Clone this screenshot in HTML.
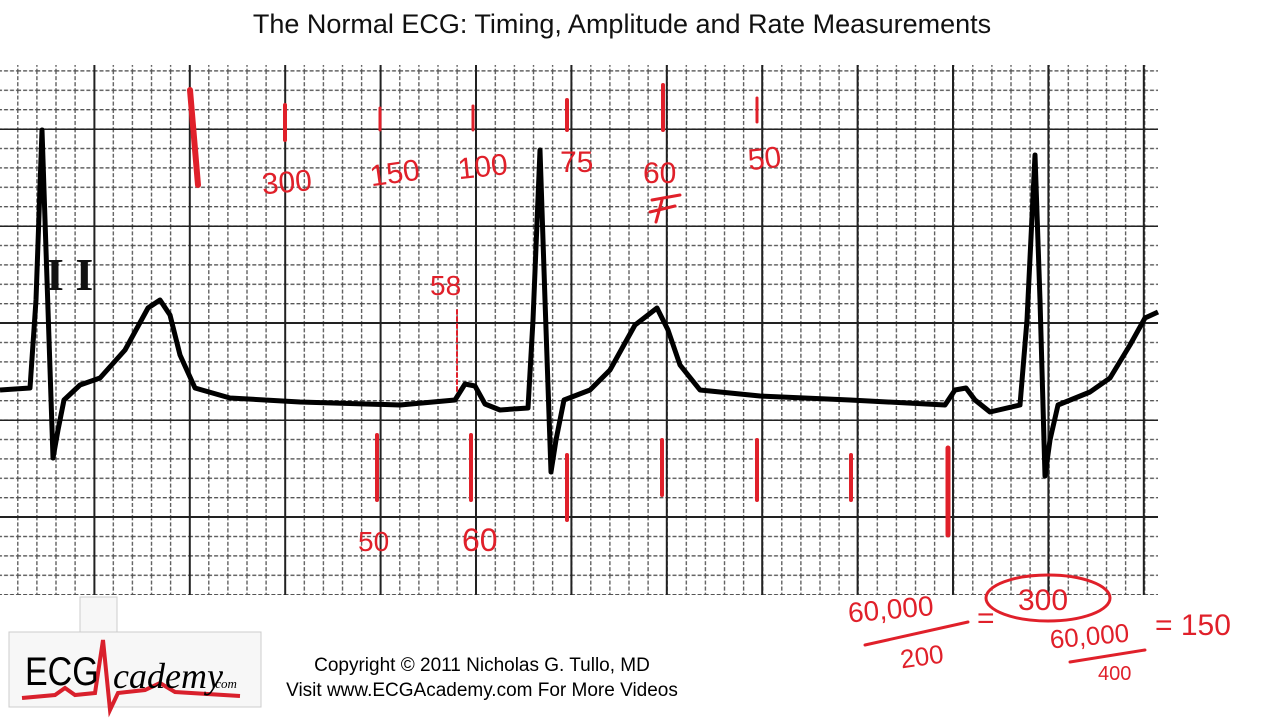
<!DOCTYPE html>
<html><head><meta charset="utf-8"><style>
body{margin:0;width:1280px;height:720px;background:#fff;overflow:hidden;font-family:"Liberation Sans",sans-serif}
</style></head><body>
<svg width="1280" height="720" xmlns="http://www.w3.org/2000/svg">
<defs>
<pattern id="minor" x="-2" y="12" width="19.1" height="19.4" patternUnits="userSpaceOnUse">
<path d="M0.7 0V19.4M0 0.7H19.1" stroke="#555" stroke-width="1.3" stroke-dasharray="4 2" fill="none"/>
</pattern>
<pattern id="major" x="-2" y="31" width="95.4" height="97" patternUnits="userSpaceOnUse">
<path d="M1 0V97M0 1H95.4" stroke="#222" stroke-width="2" fill="none"/>
</pattern>
</defs>
<text x="622" y="33" font-size="27" text-anchor="middle" fill="#111">The Normal ECG: Timing, Amplitude and Rate Measurements</text>
<rect x="0" y="65" width="1158" height="530" fill="url(#minor)"/>
<rect x="0" y="65" width="1158" height="530" fill="url(#major)"/>
<path d="M0 390 L30 388 L36 300 L42 130 L46 250 L53 458 L58 430 L64 400 L80 385 L100 378 L125 350 L148 308 L160 300 L170 315 L180 355 L195 388 L230 398 L300 402 L400 405 L455 400 L465 384 L475 386 L485 404 L500 410 L528 408 L533 320 L540 150 L545 300 L551 472 L556 440 L564 400 L590 390 L610 370 L635 325 L657 308 L668 330 L680 365 L700 390 L760 396 L850 400 L945 405 L955 390 L966 388 L975 400 L990 412 L1020 405 L1027 320 L1035 155 L1040 300 L1045 476 L1050 440 L1058 405 L1090 392 L1110 378 L1130 345 L1145 318 L1158 312" fill="none" stroke="#000" stroke-width="5" stroke-linejoin="round"/>
<text x="46" y="290" font-size="46" font-family="Liberation Serif" fill="#111" font-weight="bold">I I</text>
<g stroke="#e0202a" stroke-linecap="round" fill="none">
<path d="M190 90L198 185" stroke-width="6"/>
<path d="M285 105V140" stroke-width="4"/>
<path d="M380 108V130" stroke-width="3"/>
<path d="M473 106V130" stroke-width="3"/>
<path d="M567 100V130" stroke-width="4"/>
<path d="M663 85V130" stroke-width="4"/>
<path d="M757 98V122" stroke-width="3"/>
<path d="M457 310V392" stroke-width="2" stroke-dasharray="4 3"/>
<path d="M377 435V500" stroke-width="4"/>
<path d="M471 435V500" stroke-width="4"/>
<path d="M567 455V520" stroke-width="4"/>
<path d="M662 440V495" stroke-width="4"/>
<path d="M757 440V500" stroke-width="4"/>
<path d="M851 455V500" stroke-width="4"/>
<path d="M948 448V535" stroke-width="5"/>
<path d="M652 200L680 195M650 212L675 206M662 200L656 222" stroke-width="3"/>
<path d="M865 645L968 622" stroke-width="3"/>
<path d="M1070 662L1145 650" stroke-width="3"/>
<ellipse cx="1048" cy="598" rx="62" ry="23" stroke-width="3"/>
</g>
<g fill="#e0202a" font-family="Liberation Sans" font-size="30">
<text x="262" y="192" transform="rotate(-5 290 185)">300</text>
<text x="370" y="183" transform="rotate(-8 395 175)">150</text>
<text x="458" y="177" transform="rotate(-6 480 170)">100</text>
<text x="560" y="172">75</text>
<text x="643" y="183">60</text>
<text x="748" y="168" transform="rotate(-6 770 160)">50</text>
<text x="430" y="295" font-size="28">58</text>
<text x="358" y="551" font-size="28">50</text>
<text x="462" y="551" font-size="32">60</text>
<text x="848" y="618" font-size="28" transform="rotate(-5 900 610)">60,000</text>
<text x="900" y="665" font-size="26" transform="rotate(-8 925 655)">200</text>
<text x="977" y="628" font-size="30">=</text>
<text x="1018" y="610" font-size="30">300</text>
<text x="1050" y="645" font-size="26" transform="rotate(-5 1090 640)">60,000</text>
<text x="1098" y="680" font-size="20">400</text>
<text x="1155" y="635" font-size="30">= 150</text>
</g>
<g>
<rect x="80" y="597" width="37" height="110" fill="#f7f7f7" stroke="#ccc"/>
<rect x="9" y="632" width="252" height="75" fill="#f7f7f7" stroke="#ccc"/>
<path d="M22 698L55 695L65 688L75 695L95 693L103 640L110 710L118 693L145 690L160 683L175 692L240 696" stroke="#d9202c" stroke-width="4" fill="none"/>
<text x="25" y="685" font-size="40" fill="#000" transform="translate(25 685) scale(0.85 1) translate(-25 -685)">ECG</text>
<text x="113" y="688" font-size="36" font-family="Liberation Serif" font-style="italic" fill="#000">cademy</text>
<text x="212" y="688" font-size="13" font-family="Liberation Serif" font-style="italic" fill="#000">.com</text>
</g>
<text x="482" y="671" font-size="19" text-anchor="middle" fill="#000">Copyright © 2011 Nicholas G. Tullo, MD</text>
<text x="482" y="696" font-size="19" text-anchor="middle" fill="#000">Visit www.ECGAcademy.com For More Videos</text>
</svg>
</body></html>
